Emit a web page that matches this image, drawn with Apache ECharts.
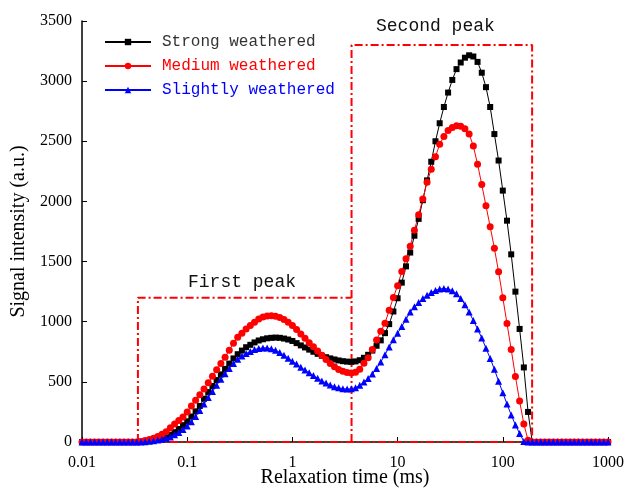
<!DOCTYPE html>
<html>
<head>
<meta charset="utf-8">
<script src="https://cdn.jsdelivr.net/npm/echarts@6/dist/echarts.min.js"></script>
<style>
html, body { margin: 0; padding: 0; background: #fff; }
#main { width: 629px; height: 492px; }
</style>
</head>
<body>
<div id="main"></div>
<script>
// relaxation time grid (ms), 25 points per decade
var time = [
  0.01, 0.01096, 0.01202, 0.01318, 0.01445, 0.01585, 0.01738, 0.01905, 0.02089, 0.02291, 0.02512, 0.02754, 0.03020, 0.03311, 0.03631, 0.03981, 0.04365, 0.04786, 0.05248, 0.05754, 0.06310, 0.06918, 0.07586, 0.08318, 0.09120,
  0.1, 0.1096, 0.1202, 0.1318, 0.1445, 0.1585, 0.1738, 0.1905, 0.2089, 0.2291, 0.2512, 0.2754, 0.3020, 0.3311, 0.3631, 0.3981, 0.4365, 0.4786, 0.5248, 0.5754, 0.6310, 0.6918, 0.7586, 0.8318, 0.9120,
  1, 1.096, 1.202, 1.318, 1.445, 1.585, 1.738, 1.905, 2.089, 2.291, 2.512, 2.754, 3.020, 3.311, 3.631, 3.981, 4.365, 4.786, 5.248, 5.754, 6.310, 6.918, 7.586, 8.318, 9.120,
  10, 10.96, 12.02, 13.18, 14.45, 15.85, 17.38, 19.05, 20.89, 22.91, 25.12, 27.54, 30.20, 33.11, 36.31, 39.81, 43.65, 47.86, 52.48, 57.54, 63.10, 69.18, 75.86, 83.18, 91.20,
  100, 109.6, 120.2, 131.8, 144.5, 158.5, 173.8, 190.5, 208.9, 229.1, 251.2, 275.4, 302.0, 331.1, 363.1, 398.1, 436.5, 478.6, 524.8, 575.4, 631.0, 691.8, 758.6, 831.8, 912.0,
  1000
];

var strong = [
  0, 0, 0, 0, 0, 0, 0, 0, 0, 0,
  0, 0, 0, 0, 2, 5, 10, 17, 26, 36,
  48, 60, 82, 108, 140, 172, 212, 255, 300, 360,
  415, 465, 515, 562, 608, 652, 695, 730, 760, 788,
  808, 828, 844, 854, 862, 866, 868, 866, 860, 852,
  840, 822, 803, 786, 768, 750, 733, 717, 705, 695,
  686, 678, 672, 668, 666, 670, 680, 700, 725, 760,
  800, 845, 905, 980, 1085, 1195, 1325, 1460, 1575, 1715,
  1855, 2010, 2175, 2330, 2500, 2650, 2785, 2905, 3010, 3100,
  3155, 3195, 3215, 3205, 3160, 3070, 2950, 2785, 2560, 2340,
  2090, 1840, 1560, 1250, 940, 620, 250, 0, 0, 0,
  0, 0, 0, 0, 0, 0, 0, 0, 0, 0,
  0, 0, 0, 0, 0, 0
];

var medium = [
  0, 0, 0, 0, 0, 0, 0, 0, 0, 0,
  0, 0, 0, 0, 5, 12, 20, 31, 46, 64,
  86, 118, 150, 178, 208, 250, 300, 348, 393, 440,
  492, 546, 600, 652, 705, 763, 822, 870, 905, 940,
  968, 995, 1022, 1040, 1048, 1050, 1045, 1036, 1018, 996,
  968, 935, 898, 862, 826, 792, 757, 722, 686, 652,
  625, 603, 588, 578, 574, 580, 605, 655, 700, 768,
  848, 920, 988, 1095, 1202, 1300, 1417, 1524, 1628, 1760,
  1889, 2020, 2160, 2267, 2372, 2475, 2540, 2590, 2615, 2630,
  2625, 2605, 2560, 2460, 2310, 2140, 1965, 1790, 1610, 1415,
  1200, 985, 770, 545, 340, 150, 15, 0, 0, 0,
  0, 0, 0, 0, 0, 0, 0, 0, 0, 0,
  0, 0, 0, 0, 0, 0
];

var slightly = [
  0, 0, 0, 0, 0, 0, 0, 0, 0, 0,
  0, 0, 0, 0, 0, 3, 6, 10, 16, 23,
  31, 42, 60, 80, 104, 132, 168, 212, 262, 315,
  370, 420, 472, 522, 568, 612, 652, 688, 714, 735,
  752, 768, 777, 782, 782, 775, 762, 745, 722, 697,
  672, 648, 622, 598, 575, 552, 530, 508, 490, 474,
  460, 450, 443, 440, 442, 452, 472, 498, 528, 565,
  612, 665, 725, 790, 850, 905, 960, 1020, 1080, 1125,
  1160, 1192, 1220, 1243, 1260, 1272, 1276, 1272, 1258, 1232,
  1193, 1142, 1080, 1010, 940, 865, 780, 695, 605, 505,
  410, 315, 225, 142, 70, 5, 0, 0, 0, 0,
  0, 0, 0, 0, 0, 0, 0, 0, 0, 0,
  0, 0, 0, 0, 0, 0
];

// dash-dot boxes around the two peaks
var peak1X = [0.034, 0.034, 3.65];
var peak1Y = [0, 1200, 1200];
var peak2X = [3.65, 3.65, 190, 190];
var peak2Y = [0, 3300, 3300, 0];
var baseX = [0.034, 190];
var baseY = [0, 0];

function pairs(xs, ys) {
    var out = [];
    for (var i = 0; i < xs.length; i++) {
        out.push([xs[i], ys[i]]);
    }
    return out;
}

var myChart = echarts.init(document.getElementById('main'), null, { renderer: 'canvas' });

var serif = 'Liberation Serif';
var mono = 'Liberation Mono';
var boxLine = { color: '#ff0000', width: 2, type: [8, 3, 2, 3] };

option = {
    animation: false,
    backgroundColor: '#fff',
    grid: {
        left: 82,
        right: 21,
        top: 21,
        bottom: 50,
        outerBoundsMode: 'none'
    },
    legend: {
        orient: 'vertical',
        left: 99,
        top: 29,
        itemWidth: 46,
        itemHeight: 8,
        itemGap: 8,
        textStyle: { fontFamily: mono, fontSize: 16, padding: [0, 0, 0, 6] },
        data: [
            { name: 'Strong weathered', textStyle: { color: '#333' } },
            { name: 'Medium weathered', textStyle: { color: '#ff0000' } },
            { name: 'Slightly weathered', textStyle: { color: '#0000ff' } }
        ]
    },
    xAxis: {
        type: 'log',
        logBase: 10,
        min: 0.01,
        max: 1000,
        name: 'Relaxation time (ms)',
        nameLocation: 'middle',
        nameGap: 26,
        nameMoveOverlap: false,
        nameTextStyle: { fontFamily: serif, fontSize: 20, color: '#000' },
        axisLine: { lineStyle: { color: '#000', width: 1.5 } },
        axisTick: { inside: true, length: 5, lineStyle: { color: '#000' } },
        axisLabel: {
            fontFamily: serif, fontSize: 16, color: '#000', margin: 13,
            formatter: function (v) { return String(+v.toPrecision(3)); }
        },
        splitLine: { show: false },
        minorTick: { show: false }
    },
    yAxis: {
        type: 'value',
        min: 0,
        max: 3500,
        interval: 500,
        name: 'Signal intensity (a.u.)',
        nameLocation: 'middle',
        nameGap: 45,
        nameTextStyle: { fontFamily: serif, fontSize: 20, color: '#000' },
        axisLine: { show: true, lineStyle: { color: '#000', width: 1.5 } },
        axisTick: { show: true, inside: true, length: 5, lineStyle: { color: '#000' } },
        axisLabel: {
            fontFamily: serif, fontSize: 16, color: '#000', margin: 10,
            formatter: function (v) { return String(v); }
        },
        splitLine: { show: false }
    },
    series: [
        {
            name: 'Strong weathered',
            type: 'line',
            color: '#000000',
            symbol: 'rect',
            symbolSize: 6,
            showAllSymbol: true,
            lineStyle: { width: 1 },
            data: pairs(time, strong)
        },
        {
            name: 'Medium weathered',
            type: 'line',
            color: '#ff0000',
            symbol: 'circle',
            symbolSize: 7,
            showAllSymbol: true,
            lineStyle: { width: 1 },
            data: pairs(time, medium)
        },
        {
            name: 'Slightly weathered',
            type: 'line',
            color: '#0000ff',
            symbol: 'triangle',
            symbolSize: 7,
            showAllSymbol: true,
            lineStyle: { width: 1 },
            data: pairs(time, slightly)
        },
        {
            name: 'box1', type: 'line', symbol: 'none', silent: true,
            lineStyle: boxLine, data: pairs(peak1X, peak1Y)
        },
        {
            name: 'box2', type: 'line', symbol: 'none', silent: true,
            lineStyle: boxLine, data: pairs(peak2X, peak2Y)
        },
        {
            name: 'base', type: 'line', symbol: 'none', silent: true,
            lineStyle: boxLine, data: pairs(baseX, baseY)
        }
    ],
    graphic: [
        {
            type: 'text', left: 188, top: 273,
            style: { text: 'First peak', font: '18px "Liberation Mono"', fill: '#111' }
        },
        {
            type: 'text', left: 376, top: 17,
            style: { text: 'Second peak', font: '18px "Liberation Mono"', fill: '#111' }
        }
    ]
};
myChart.setOption(option);
</script>
</body>
</html>
